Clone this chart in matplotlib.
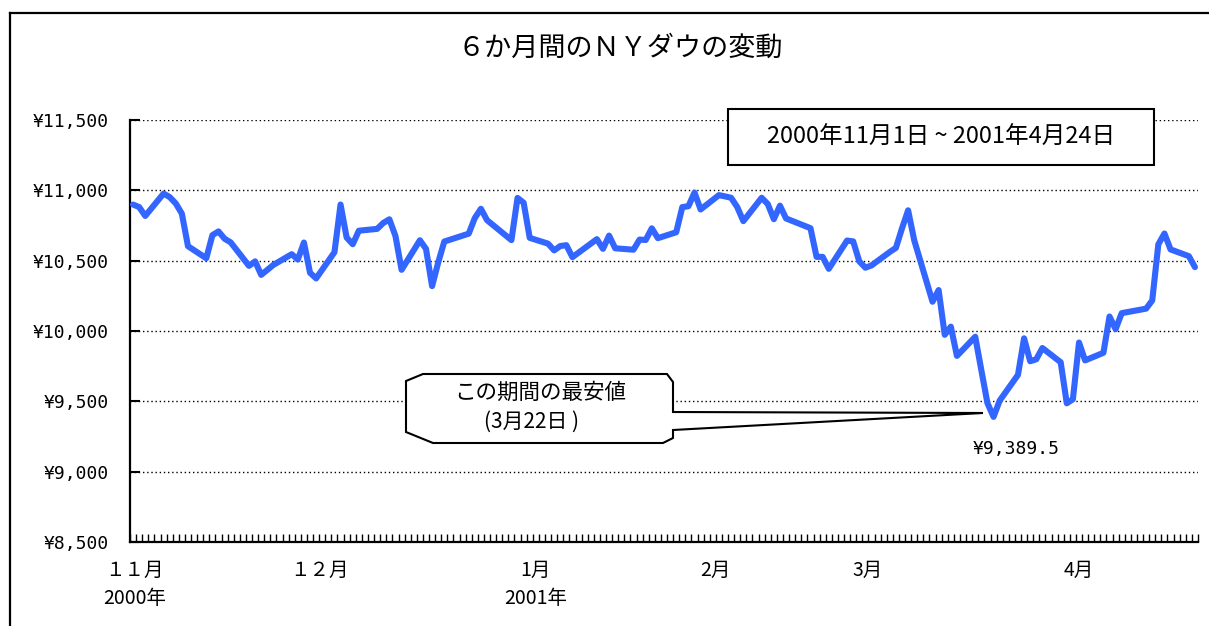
import matplotlib
matplotlib.use("Agg")
import matplotlib.pyplot as plt
import pandas as pd
from matplotlib.lines import Line2D
from matplotlib.patches import Rectangle, Polygon

# ---------------- data ----------------
nov_days = [1, 2, 3, 6, 7, 8, 9, 10, 13, 14, 15, 16, 17, 20, 21, 22, 24, 27, 28, 29, 30]
nov_vals = [10899, 10881, 10818, 10977, 10952, 10907, 10834, 10603, 10517, 10681, 10708,
            10656, 10630, 10463, 10495, 10399, 10470, 10546, 10508, 10629, 10414]
dec_days = [1, 4, 5, 6, 7, 8, 11, 12, 13, 14, 15, 18, 19, 20, 21, 22, 26, 27, 28, 29]
dec_vals = [10374, 10560, 10899, 10664, 10617, 10713, 10726, 10768, 10794, 10675, 10435,
            10645, 10584, 10319, 10487, 10636, 10692, 10803, 10869, 10788]
jan_days = [2, 3, 4, 5, 8, 9, 10, 11, 12, 16, 17, 18, 19, 22, 23, 24, 25, 26, 29, 30, 31]
jan_vals = [10646, 10946, 10912, 10662, 10621, 10573, 10604, 10610, 10525, 10653, 10584,
            10678, 10588, 10578, 10650, 10647, 10730, 10660, 10702, 10881, 10887]
feb_days = [1, 2, 5, 6, 7, 8, 9, 12, 13, 14, 15, 16, 20, 21, 22, 23, 26, 27, 28]
feb_vals = [10984, 10864, 10966, 10957, 10947, 10881, 10781, 10947, 10903, 10795, 10891,
            10800, 10731, 10527, 10527, 10442, 10643, 10637, 10495]
mar_days = [1, 2, 5, 6, 7, 8, 9, 12, 13, 14, 15, 16, 19, 20, 21, 22, 23, 26, 27, 28, 29, 30]
mar_vals = [10450, 10466, 10562, 10591, 10730, 10858, 10645, 10208, 10291, 9973, 10031,
            9823, 9959, 9721, 9487, 9389.5, 9505, 9688, 9948, 9785, 9799, 9879]
apr_days = [2, 3, 4, 5, 6, 9, 10, 11, 12, 16, 17, 18, 19, 20, 23, 24]
apr_vals = [9778, 9486, 9515, 9918, 9791, 9845, 10103, 10013, 10127, 10159, 10217,
            10616, 10693, 10580, 10532, 10454]

months = [("2000-11", nov_days, nov_vals), ("2000-12", dec_days, dec_vals),
          ("2001-01", jan_days, jan_vals), ("2001-02", feb_days, feb_vals),
          ("2001-03", mar_days, mar_vals), ("2001-04", apr_days, apr_vals)]

y_ticks = [8500, 9000, 9500, 10000, 10500, 11000, 11500]
y_labels = ["¥8,500", "¥9,000", "¥9,500", "¥10,000", "¥10,500", "¥11,000", "¥11,500"]

month_label_pos = ["2000-11-01 07:00", "2000-12-01 14:00", "2001-01-05 22:00",
                   "2001-02-04 10:00", "2001-03-01 10:00", "2001-04-05 00:00"]
month_labels = ["１１月\n2000年", "１２月", "1月\n2001年", "2月", "3月", "4月"]

title = "６か月間のＮＹダウの変動"
period_text = "2000年11月1日 ~ 2001年4月24日"
callout_1 = "この期間の最安値"
callout_2 = "(3月22日 )"
low_label = "¥9,389.5"

dates = []
values = []
for ym, ds, vs in months:
    for d, v in zip(ds, vs):
        dates.append(pd.Timestamp(f"{ym}-{d:02d}"))
        values.append(v)

# ---------------- figure ----------------
W, H = 1209, 626
fig = plt.figure(figsize=(W / 100, H / 100), dpi=100)
fig.patch.set_facecolor("white")

def fx(px):
    return px / W

def fy(py):
    return 1 - py / H

ax = fig.add_axes([fx(130), (H - 542) / H, 1068 / W, 422 / H])
CJK = ["Noto Sans CJK JP", "DejaVu Sans"]
MONO = ["DejaVu Sans Mono"]

ax.plot(dates, values, color="#3366FF", lw=4.4, solid_joinstyle="round",
        solid_capstyle="round", zorder=3)

start = dates[0] - pd.Timedelta(hours=12)
end = dates[-1] + pd.Timedelta(hours=12)
ax.set_xlim(start, end)
ax.set_ylim(8500, 11500)

ax.set_yticks(y_ticks)
ax.set_yticklabels(y_labels, family=MONO, fontsize=13)
ax.tick_params(axis="y", direction="in", length=7, width=1.5, pad=15)

ax.set_xticks(pd.to_datetime(month_label_pos))
ax.set_xticklabels(month_labels, family=CJK, fontsize=14, linespacing=1.45)
ax.tick_params(axis="x", which="major", length=0, pad=13)
ax.set_xticks(pd.date_range(start, end, freq="D"), minor=True)
ax.tick_params(axis="x", which="minor", direction="in", length=6, width=1.0)

ax.grid(axis="y", color="black", linestyle=(0, (1, 2)), lw=1.0)
ax.set_axisbelow(True)
for s in ["top", "right"]:
    ax.spines[s].set_visible(False)
for s in ["left", "bottom"]:
    ax.spines[s].set_linewidth(1.6)

# outer frame
fig.add_artist(Line2D([fx(10), fx(10)], [fy(13), fy(640)], transform=fig.transFigure,
                      color="black", lw=1.6))
fig.add_artist(Line2D([fx(10), fx(1220)], [fy(13), fy(13)], transform=fig.transFigure,
                      color="black", lw=1.6))

# title
fig.text(fx(620), fy(48), title, ha="center", va="center", fontsize=19.5, family=CJK)

# period box
fig.add_artist(Rectangle((fx(728), fy(165)), fx(1154) - fx(728), fy(109) - fy(165),
                         transform=fig.transFigure, facecolor="white", edgecolor="black",
                         lw=1.5, zorder=5))
fig.text(fx(941), fy(137), period_text, ha="center", va="center", fontsize=17,
         family=CJK, zorder=6)

# callout
pts = [(406, 381), (423, 374), (667, 374), (673, 382), (673, 412), (983, 413),
       (673, 430), (673, 438), (663, 443), (433, 443), (406, 432)]
fig.add_artist(Polygon([(fx(x), fy(y)) for x, y in pts], closed=True,
                       transform=fig.transFigure, facecolor="white", edgecolor="black",
                       lw=1.5, zorder=5))
fig.text(fx(540), fy(393), callout_1, ha="center", va="center", fontsize=15.5,
         family=CJK, zorder=6)
fig.text(fx(532), fy(422), callout_2, ha="center", va="center", fontsize=15,
         family=CJK, zorder=6)

fig.text(fx(1016), fy(449), low_label, ha="center", va="center", fontsize=13,
         family=MONO, zorder=6)

fig.savefig("out.png", dpi=100)
